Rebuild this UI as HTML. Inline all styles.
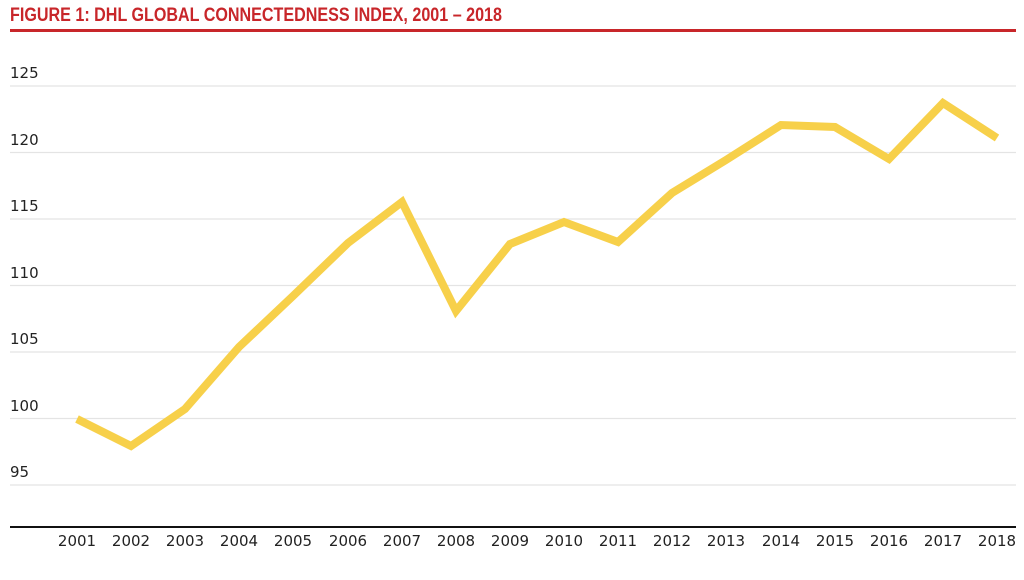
<!DOCTYPE html>
<html><head><meta charset="utf-8"><style>html,body{margin:0;padding:0;background:#fff}</style></head>
<body>
<svg width="1024" height="575" xmlns="http://www.w3.org/2000/svg">
<text x="10" y="21" font-family="Liberation Sans Narrow, Liberation Sans, sans-serif" font-weight="bold" font-size="19" fill="#c8262a" textLength="492" lengthAdjust="spacingAndGlyphs">FIGURE 1: DHL GLOBAL CONNECTEDNESS INDEX, 2001 – 2018</text>
<rect x="10" y="29" width="1006" height="3" fill="#c8262a"/>
<g stroke="#e4e4e4" stroke-width="1.2">
<line x1="10" x2="1016" y1="86" y2="86"/>
<line x1="10" x2="1016" y1="152.5" y2="152.5"/>
<line x1="10" x2="1016" y1="219" y2="219"/>
<line x1="10" x2="1016" y1="285.5" y2="285.5"/>
<line x1="10" x2="1016" y1="352" y2="352"/>
<line x1="10" x2="1016" y1="418.5" y2="418.5"/>
<line x1="10" x2="1016" y1="485" y2="485"/>
</g>
<line x1="10" x2="1016" y1="527" y2="527" stroke="#111" stroke-width="2"/>
<g font-family="DejaVu Sans, sans-serif" font-size="15" fill="#222">
<text x="10" y="78">125</text><text x="10" y="145">120</text><text x="10" y="211">115</text>
<text x="10" y="278">110</text><text x="10" y="344">105</text><text x="10" y="411">100</text>
<text x="10" y="477">95</text>
</g>
<g font-family="DejaVu Sans, sans-serif" font-size="15" fill="#222" text-anchor="middle">
<text x="77" y="546">2001</text><text x="131" y="546">2002</text><text x="185" y="546">2003</text><text x="239" y="546">2004</text><text x="293" y="546">2005</text><text x="348" y="546">2006</text><text x="402" y="546">2007</text><text x="456" y="546">2008</text><text x="510" y="546">2009</text><text x="564" y="546">2010</text><text x="618" y="546">2011</text><text x="672" y="546">2012</text><text x="726" y="546">2013</text><text x="781" y="546">2014</text><text x="835" y="546">2015</text><text x="889" y="546">2016</text><text x="943" y="546">2017</text><text x="997" y="546">2018</text>
</g>
<polyline fill="none" stroke="#f7d04a" stroke-width="8" stroke-linejoin="miter" points="77,419 131,446 185,409 239,347 293,296 348,243 402,202 456,311 510,244 564,222 618,242 672,193 726,160 781,125 835,127 889,159 943,103 997,138"/>
</svg>
</body></html>
